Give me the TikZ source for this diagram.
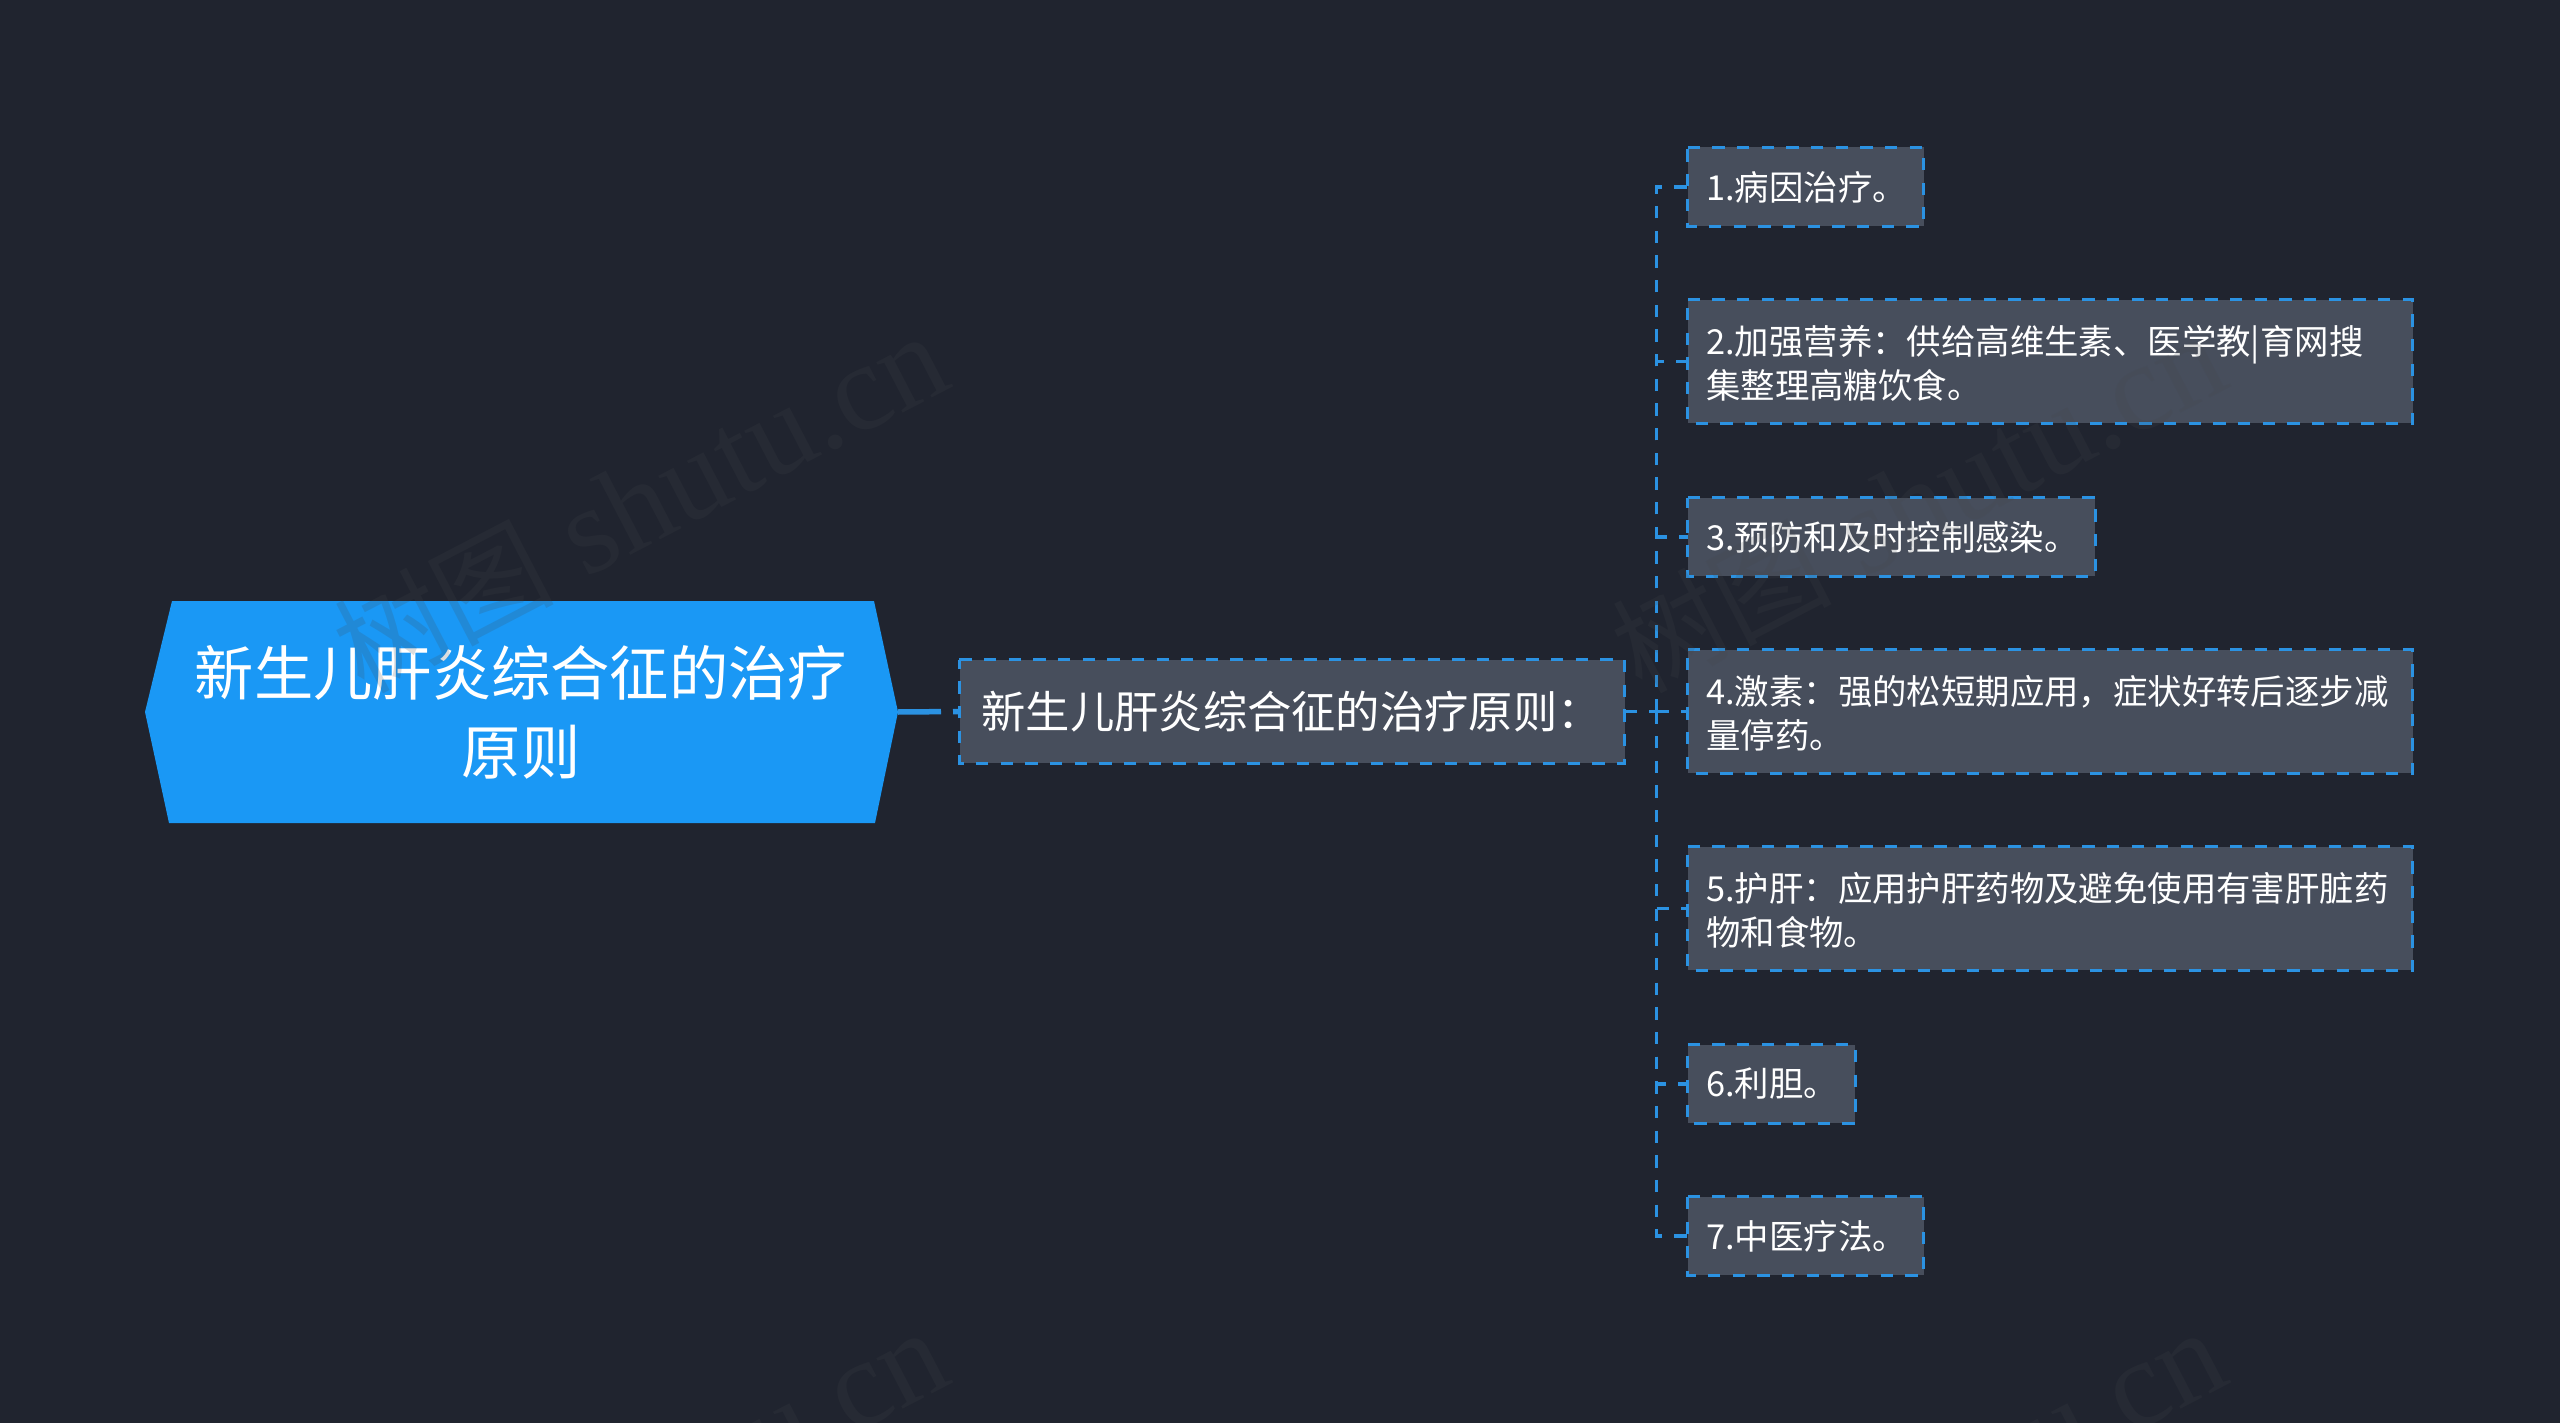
\documentclass[tikz,border=0pt]{standalone}
\usepackage{fontspec}
\setmainfont{Noto Sans CJK SC}
\newfontfamily\wmserif{Liberation Serif}
\definecolor{bgc}{HTML}{20242F}
\definecolor{rootc}{HTML}{1A98F5}
\definecolor{leafc}{HTML}{474E5C}
\definecolor{linec}{HTML}{2B92E2}
\definecolor{wmc}{HTML}{42464B}
\newcommand{\lift}{\rule{0pt}{33pt}}
\newcommand{\wmtext}{树图{\wmserif\fontsize{124}{130}\selectfont\ shutu.cn}}
\tikzset{
  x=1pt,y=1pt,
  leaf/.style={fill=leafc,text=white,inner sep=0pt,align=left,font=\fontsize{34.4}{44}\selectfont},
  midbox/.style={fill=leafc,text=white,inner sep=0pt,align=left,font=\fontsize{44.3}{54}\selectfont},
  rootlabel/.style={text=white,inner sep=0pt,align=center,font=\fontsize{59.3}{79}\selectfont},
  frame/.style={draw=linec,line width=3.3pt,dash pattern=on 12.3pt off 12.35pt},
  link/.style={draw=linec,line width=3.3pt,dash pattern=on 12.3pt off 12.35pt},
  mainlink/.style={draw=linec,line width=5.5pt,dash pattern=on 43pt off 12pt},
  watermark/.style={text=wmc,opacity=0.18,rotate=27.5,inner sep=0pt,font=\fontsize{110}{120}\selectfont}
}
\begin{document}
\begin{tikzpicture}
\useasboundingbox (0,0) rectangle (2560,-1423);
\fill[bgc] (0,0) rectangle (2560,-1423);
% root
\fill[rootc] (172,-601) -- (874,-601) -- (898,-712) -- (875,-823) -- (169,-823) -- (145,-712) -- cycle;
\node[rootlabel] (root) at (521,-712) {新生儿肝炎综合征的治疗\\原则};
\coordinate (rootR) at (898,-712);
% middle
\node[midbox,minimum width=665pt,minimum height=103pt,text width=621pt] (mid) at (1292,-711.5) {新生儿肝炎综合征的治疗原则：};
% leaves
\node[leaf,minimum width=235.5pt,minimum height=79pt,text width=199pt] (b1) at (1805.75,-187) {1.病因治疗。};
\node[leaf,minimum width=724.5pt,minimum height=123pt,text width=688pt] (b2) at (2050.25,-361.5) {\lift 2.加强营养：供给高维生素、医学教|育网搜\\集整理高糖饮食。};
\node[leaf,minimum width=407pt,minimum height=78pt,text width=371pt] (b3) at (1891.5,-537) {3.预防和及时控制感染。};
\node[leaf,minimum width=724.5pt,minimum height=123pt,text width=688pt] (b4) at (2050.25,-711.5) {\lift 4.激素：强的松短期应用，症状好转后逐步减\\量停药。};
\node[leaf,minimum width=724.5pt,minimum height=123pt,text width=688pt] (b5) at (2050.25,-908.5) {\lift 5.护肝：应用护肝药物及避免使用有害肝脏药\\物和食物。};
\node[leaf,minimum width=167pt,minimum height=78pt,text width=131pt] (b6) at (1771.5,-1084) {6.利胆。};
\node[leaf,minimum width=235.5pt,minimum height=78pt,text width=199pt] (b7) at (1805.75,-1236) {7.中医疗法。};
% dashed frames, clockwise from the top left corner
\foreach \b in {mid,b1,b2,b3,b4,b5,b6,b7}
  \draw[frame] (\b.north west) -- (\b.north east) -- (\b.south east) -- (\b.south west) -- cycle;
% connectors
\draw[mainlink] (rootR) -- (mid.west);
\coordinate (trunk) at (1656.5,-711.5);
\draw[link] (mid.east) -- (trunk);
\foreach \b in {b1,b2,b3,b4,b5,b6,b7}
  \draw[link] (trunk) |- (\b.west);
% watermarks
\node[watermark] (w1) at (640,-503) {\wmtext};
\node[watermark] (w2) at (1918,-503) {\wmtext};
\node[watermark] (w3) at (640,-1499) {\wmtext};
\node[watermark] (w4) at (1918,-1499) {\wmtext};
\end{tikzpicture}
\end{document}
